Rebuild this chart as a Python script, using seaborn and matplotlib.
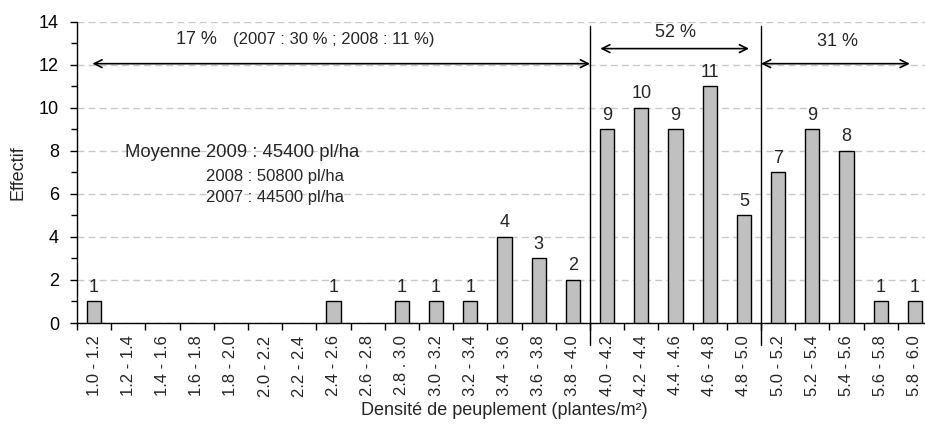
import matplotlib
matplotlib.use("Agg")
import matplotlib.pyplot as plt
import seaborn as sns
import pandas as pd
import numpy as np
from matplotlib.ticker import MultipleLocator, FixedLocator

categories = ["1.0 - 1.2", "1.2 - 1.4", "1.4 - 1.6", "1.6 - 1.8", "1.8 - 2.0",
              "2.0 - 2.2", "2.2 - 2.4", "2.4 - 2.6", "2.6 - 2.8", "2.8 . 3.0",
              "3.0 - 3.2", "3.2 - 3.4", "3.4 - 3.6", "3.6 - 3.8", "3.8 - 4.0",
              "4.0 - 4.2", "4.2 - 4.4", "4.4 . 4.6", "4.6 - 4.8", "4.8 - 5.0",
              "5.0 - 5.2", "5.2 - 5.4", "5.4 - 5.6", "5.6 - 5.8", "5.8 - 6.0"]
effectif = [1, 0, 0, 0, 0, 0, 0, 1, 0, 1, 1, 1, 4, 3, 2, 9, 10, 9, 11, 5, 7, 9, 8, 1, 1]

group_labels = ["17 %", "52 %", "31 %"]
note_17 = "(2007 : 30 % ; 2008 : 11 %)"
mean_lines = ["Moyenne 2009 : 45400 pl/ha", "2008 : 50800 pl/ha", "2007 : 44500 pl/ha"]

sns.set_style("ticks")
plt.rcParams['font.family'] = ['Liberation Sans', 'DejaVu Sans']

df = pd.DataFrame({"cat": categories, "n": effectif})

fig = plt.figure(figsize=(9.25, 4.3), dpi=100)
ax = fig.add_axes([77/925, 107/430, (932-77)/925, (323-21.7)/430])

sns.barplot(data=df, x="cat", y="n", order=categories, color="#c0c0c0",
            edgecolor="black", linewidth=1, width=0.42, saturation=1, ax=ax, zorder=3)
for p in ax.patches:
    if p.get_height() == 0:
        p.set_visible(False)

ax.set_xlim(-0.5, 24.5)
ax.set_ylim(0, 14)
ax.yaxis.set_major_locator(MultipleLocator(2))
ax.yaxis.set_minor_locator(MultipleLocator(1))
ax.grid(axis="y", which="major", color="#c8c8c8", linestyle=(0, (5, 3)), linewidth=1, zorder=0)
ax.set_axisbelow(True)

for s in ["top", "right"]:
    ax.spines[s].set_visible(False)
for s in ["left", "bottom"]:
    ax.spines[s].set_color("black")
    ax.spines[s].set_linewidth(1)

ax.tick_params(axis="y", which="major", length=5, width=1, labelsize=13, colors="black", pad=8)
ax.tick_params(axis="y", which="minor", length=4, width=1, colors="black")
ax.set_xticks(range(len(categories)))
ax.set_xticklabels(categories, rotation=90, fontsize=12)
ax.tick_params(axis="x", which="major", length=0, pad=9)
ax.xaxis.set_minor_locator(FixedLocator(np.arange(-0.5, 25, 1)))
ax.tick_params(axis="x", which="minor", length=5, width=1, colors="black")

ax.set_xlabel("Densité de peuplement (plantes/m²)", fontsize=13, labelpad=4)
ax.set_ylabel("Effectif", fontsize=13, labelpad=9)

for i, v in enumerate(effectif):
    if v > 0:
        ax.annotate(str(v), (i, v), xytext=(0, 4), textcoords="offset points",
                    ha="center", va="bottom", fontsize=13)

# separators
for xb in [14.5, 19.5]:
    ax.plot([xb, xb], [-1.0, 13.8], color="black", lw=1, clip_on=False, zorder=4)

arrow_kw = dict(arrowstyle="<->", color="black", lw=1.2, mutation_scale=14, shrinkA=0, shrinkB=0)
ax.annotate("", xy=(14.5, 12.05), xytext=(-0.05, 12.05), arrowprops=arrow_kw)
ax.annotate("", xy=(19.15, 12.75), xytext=(14.8, 12.75), arrowprops=arrow_kw)
ax.annotate("", xy=(23.85, 12.05), xytext=(19.5, 12.05), arrowprops=arrow_kw)

ax.text(3.0, 13.15, group_labels[0], ha="center", va="center", fontsize=13)
ax.text(4.05, 13.15, note_17, ha="left", va="center", fontsize=12)
ax.text(17.0, 13.5, group_labels[1], ha="center", va="center", fontsize=13)
ax.text(21.75, 13.1, group_labels[2], ha="center", va="center", fontsize=13)

ax.text(0.9, 7.9, mean_lines[0], ha="left", va="center", fontsize=13.3)
ax.text(3.27, 6.8, mean_lines[1], ha="left", va="center", fontsize=12)
ax.text(3.27, 5.85, mean_lines[2], ha="left", va="center", fontsize=12)

fig.savefig("out.png", dpi=100)
